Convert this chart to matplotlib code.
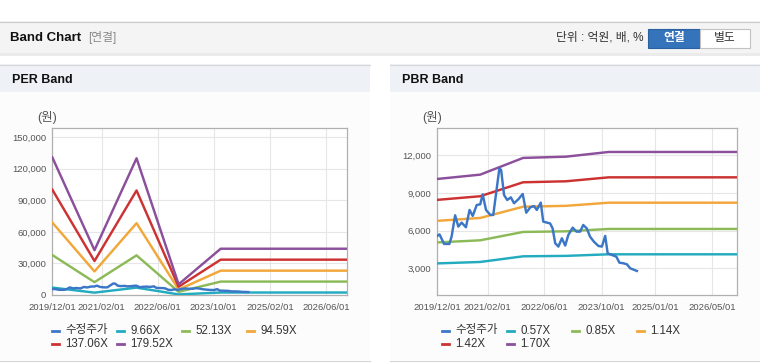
import pandas as pd
import matplotlib
matplotlib.use('Agg')
import matplotlib.pyplot as plt
import matplotlib.dates as mdates
from matplotlib.patches import Rectangle
from matplotlib.lines import Line2D

plt.rcParams['font.family'] = ['Liberation Sans', 'Noto Sans CJK KR']

W, H = 760, 364

# ---- data ----
band_dates = ['2019-12-01', '2020-12-01', '2021-12-01', '2022-12-01', '2023-12-01', '2026-12-01']

per_labels = ['9.66X', '52.13X', '94.59X', '137.06X', '179.52X']
per_9_66 = [7050, 2250, 7000, 560, 2360, 2360]
per_52_13 = [38000, 12200, 37700, 3000, 12750, 12750]
per_94_59 = [68900, 22400, 68300, 5200, 23150, 23150]
per_137_06 = [100200, 32300, 99400, 7850, 33600, 33600]
per_179_52 = [130900, 42600, 130000, 10200, 44000, 44000]

pbr_labels = ['0.57X', '0.85X', '1.14X', '1.42X', '1.70X']
pbr_0_57 = [3390, 3505, 3955, 3990, 4115, 4115]
pbr_0_85 = [5060, 5230, 5895, 5945, 6135, 6135]
pbr_1_14 = [6780, 7010, 7905, 7975, 8225, 8225]
pbr_1_42 = [8450, 8740, 9850, 9930, 10245, 10245]
pbr_1_70 = [10115, 10460, 11790, 11890, 12265, 12265]

price_dates = ['2019-12-01', '2019-12-20', '2020-01-28', '2020-03-13', '2020-04-01', '2020-05-01',
               '2020-05-28', '2020-06-25', '2020-08-01', '2020-09-01', '2020-09-28', '2020-11-01',
               '2020-12-01', '2020-12-22', '2021-01-19', '2021-02-25', '2021-03-22', '2021-04-19',
               '2021-05-13', '2021-05-28', '2021-06-22', '2021-07-19', '2021-08-19', '2021-09-15',
               '2021-10-22', '2021-11-28', '2021-12-28', '2022-02-01', '2022-03-04', '2022-03-28',
               '2022-05-01', '2022-05-22', '2022-06-22', '2022-07-19', '2022-08-10', '2022-09-01',
               '2022-09-28', '2022-10-28', '2022-11-25', '2022-12-22', '2023-01-28', '2023-03-01',
               '2023-04-01', '2023-04-28', '2023-05-28', '2023-06-25', '2023-07-28', '2023-09-04',
               '2023-10-04', '2023-11-01', '2023-11-22', '2023-12-28', '2024-02-04', '2024-03-01',
               '2024-04-04', '2024-05-04', '2024-06-01', '2024-07-28']
price = [5580, 5700, 4940, 4940, 5530, 7220,
         6320, 6640, 6270, 7650, 7170, 8040,
         8100, 8890, 7650, 7250, 7250, 9240,
         10960, 10830, 8840, 8440, 8650, 8180,
         8500, 8920, 7430, 7860, 7960, 7650,
         8230, 6720, 6640, 6580, 6180, 4990,
         4730, 5390, 4810, 5660, 6240, 5920,
         5920, 6450, 6180, 5520, 5120, 4780,
         4730, 5580, 4200, 4060, 3930, 3450,
         3400, 3320, 3000, 2790]

per_xticks = ['2019-12-01', '2021-02-01', '2022-06-01', '2023-10-01', '2025-02-01', '2026-06-01']
pbr_xticks = ['2019-12-01', '2021-02-01', '2022-06-01', '2023-10-01', '2025-01-01', '2026-05-01']
per_yticks = [0, 30000, 60000, 90000, 120000, 150000]
pbr_yticks = [3000, 6000, 9000, 12000]

price_label = '수정주가'
band_colors = ['#23abc0', '#8dba58', '#f2a73a', '#cd3232', '#8b4f9b']
price_color = '#3b77c6'


def px_rect(fig, x0, y0, x1, y1, **kw):
    r = Rectangle((x0 / W, 1 - y1 / H), (x1 - x0) / W, (y1 - y0) / H,
                  transform=fig.transFigure, **kw)
    fig.add_artist(r)
    return r


def px_line(fig, x0, y0, x1, y1, **kw):
    fig.add_artist(Line2D([x0 / W, x1 / W], [1 - y0 / H, 1 - y1 / H],
                          transform=fig.transFigure, **kw))


def px_text(fig, x, y, s, **kw):
    fig.text(x / W, 1 - y / H, s, **kw)


fig = plt.figure(figsize=(W / 100, H / 100), dpi=100)
fig.patch.set_facecolor('white')

# top header bar (kept behind the axes)
px_rect(fig, 0, 21, 760, 53, facecolor='#f4f4f4', edgecolor='none', zorder=-2)
px_line(fig, 0, 21.5, 760, 21.5, color='#cccccc', lw=0.8, zorder=-1)
px_rect(fig, 0, 53, 760, 56, facecolor='#ebebeb', edgecolor='none', zorder=-2)
px_text(fig, 10, 38, 'Band Chart', fontsize=9.5, fontweight='bold', color='#111111', va='center')
px_text(fig, 88, 38, '[연결]', fontsize=8.5, color='#888888', va='center')
px_text(fig, 643, 38, '단위 : 억원, 배, %', fontsize=8.5, color='#333333', va='center', ha='right')
px_rect(fig, 648, 29, 700, 48, facecolor='#3573ba', edgecolor='#2b61a0', lw=0.8, zorder=-1)
px_rect(fig, 700, 29, 750, 48, facecolor='white', edgecolor='#c2c2c2', lw=0.8, zorder=-1)
px_text(fig, 674, 38.5, '연결', fontsize=8.5, fontweight='bold', color='white', va='center', ha='center')
px_text(fig, 725, 38.5, '별도', fontsize=8.5, color='#333333', va='center', ha='center')

# panels
for x0, x1, title in [(0, 370, 'PER Band'), (390, 760, 'PBR Band')]:
    px_rect(fig, x0, 92, x1, 360, facecolor='#fcfcfc', edgecolor='none', zorder=-2)
    px_rect(fig, x0, 64, x1, 92, facecolor='#eef2f7', edgecolor='none', zorder=-2)
    px_line(fig, x0, 64.5, x1, 64.5, color='#d6d6d6', lw=0.8, zorder=-1)
    px_line(fig, x0, 360.5, x1, 360.5, color='#d6d6d6', lw=0.8, zorder=-1)
    px_text(fig, x0 + 12, 80, title, fontsize=9, fontweight='bold', color='#111111', va='center')


def draw_band(rect, bands, labels, ylim, yticks, xticks, unit_x, legend_x0):
    ax = fig.add_axes(rect)
    ax.set_facecolor('white')
    bd = pd.to_datetime(band_dates)
    for vals, c in zip(bands, band_colors):
        ax.plot(bd, vals, color=c, lw=1.75, zorder=3)
    ax.plot(pd.to_datetime(price_dates), price, color=price_color, lw=1.75, zorder=4)

    ax.set_xlim(pd.Timestamp('2019-12-01'), pd.Timestamp('2026-12-01'))
    ax.set_ylim(*ylim)
    ax.set_xticks(pd.to_datetime(xticks))
    ax.xaxis.set_major_formatter(mdates.DateFormatter('%Y/%m/%d'))
    ax.set_yticks(yticks)
    ax.set_yticklabels([f'{v:,}' for v in yticks])
    ax.grid(True, color='#e6e6e6', lw=0.8, zorder=0)
    ax.set_axisbelow(True)
    for s in ax.spines.values():
        s.set_color('#b0b0b0')
        s.set_linewidth(0.9)
    ax.tick_params(length=0, labelsize=6.8, labelcolor='#555555')
    ax.tick_params(axis='y', pad=4.5)
    ax.tick_params(axis='x', pad=6)

    px_text(fig, unit_x, 117, '(원)', fontsize=9, color='#555555', ha='center', va='center')

    # legend
    items = [(price_label, price_color)] + list(zip(labels, band_colors))
    for i, (lab, c) in enumerate(items):
        col, row = i % 4, i // 4
        lx = legend_x0 + col * 65
        ly = 330.5 + row * 13.5
        px_line(fig, lx, ly, lx + 7, ly, color=c, lw=2)
        px_text(fig, lx + 13, ly, lab, fontsize=8.3, color='#333333', va='center')
    return ax


per_rect = [52.3 / W, 1 - 295 / H, (347 - 52.3) / W, (295 - 128) / H]
pbr_rect = [437.3 / W, 1 - 295 / H, (737.3 - 437.3) / W, (295 - 128.3) / H]

draw_band(per_rect, [per_9_66, per_52_13, per_94_59, per_137_06, per_179_52], per_labels,
          (0, 158800), per_yticks, per_xticks, 47, 52.3)
draw_band(pbr_rect, [pbr_0_57, pbr_0_85, pbr_1_14, pbr_1_42, pbr_1_70], pbr_labels,
          (874, 14150), pbr_yticks, pbr_xticks, 432, 442.3)

fig.savefig('out.png', dpi=100)
